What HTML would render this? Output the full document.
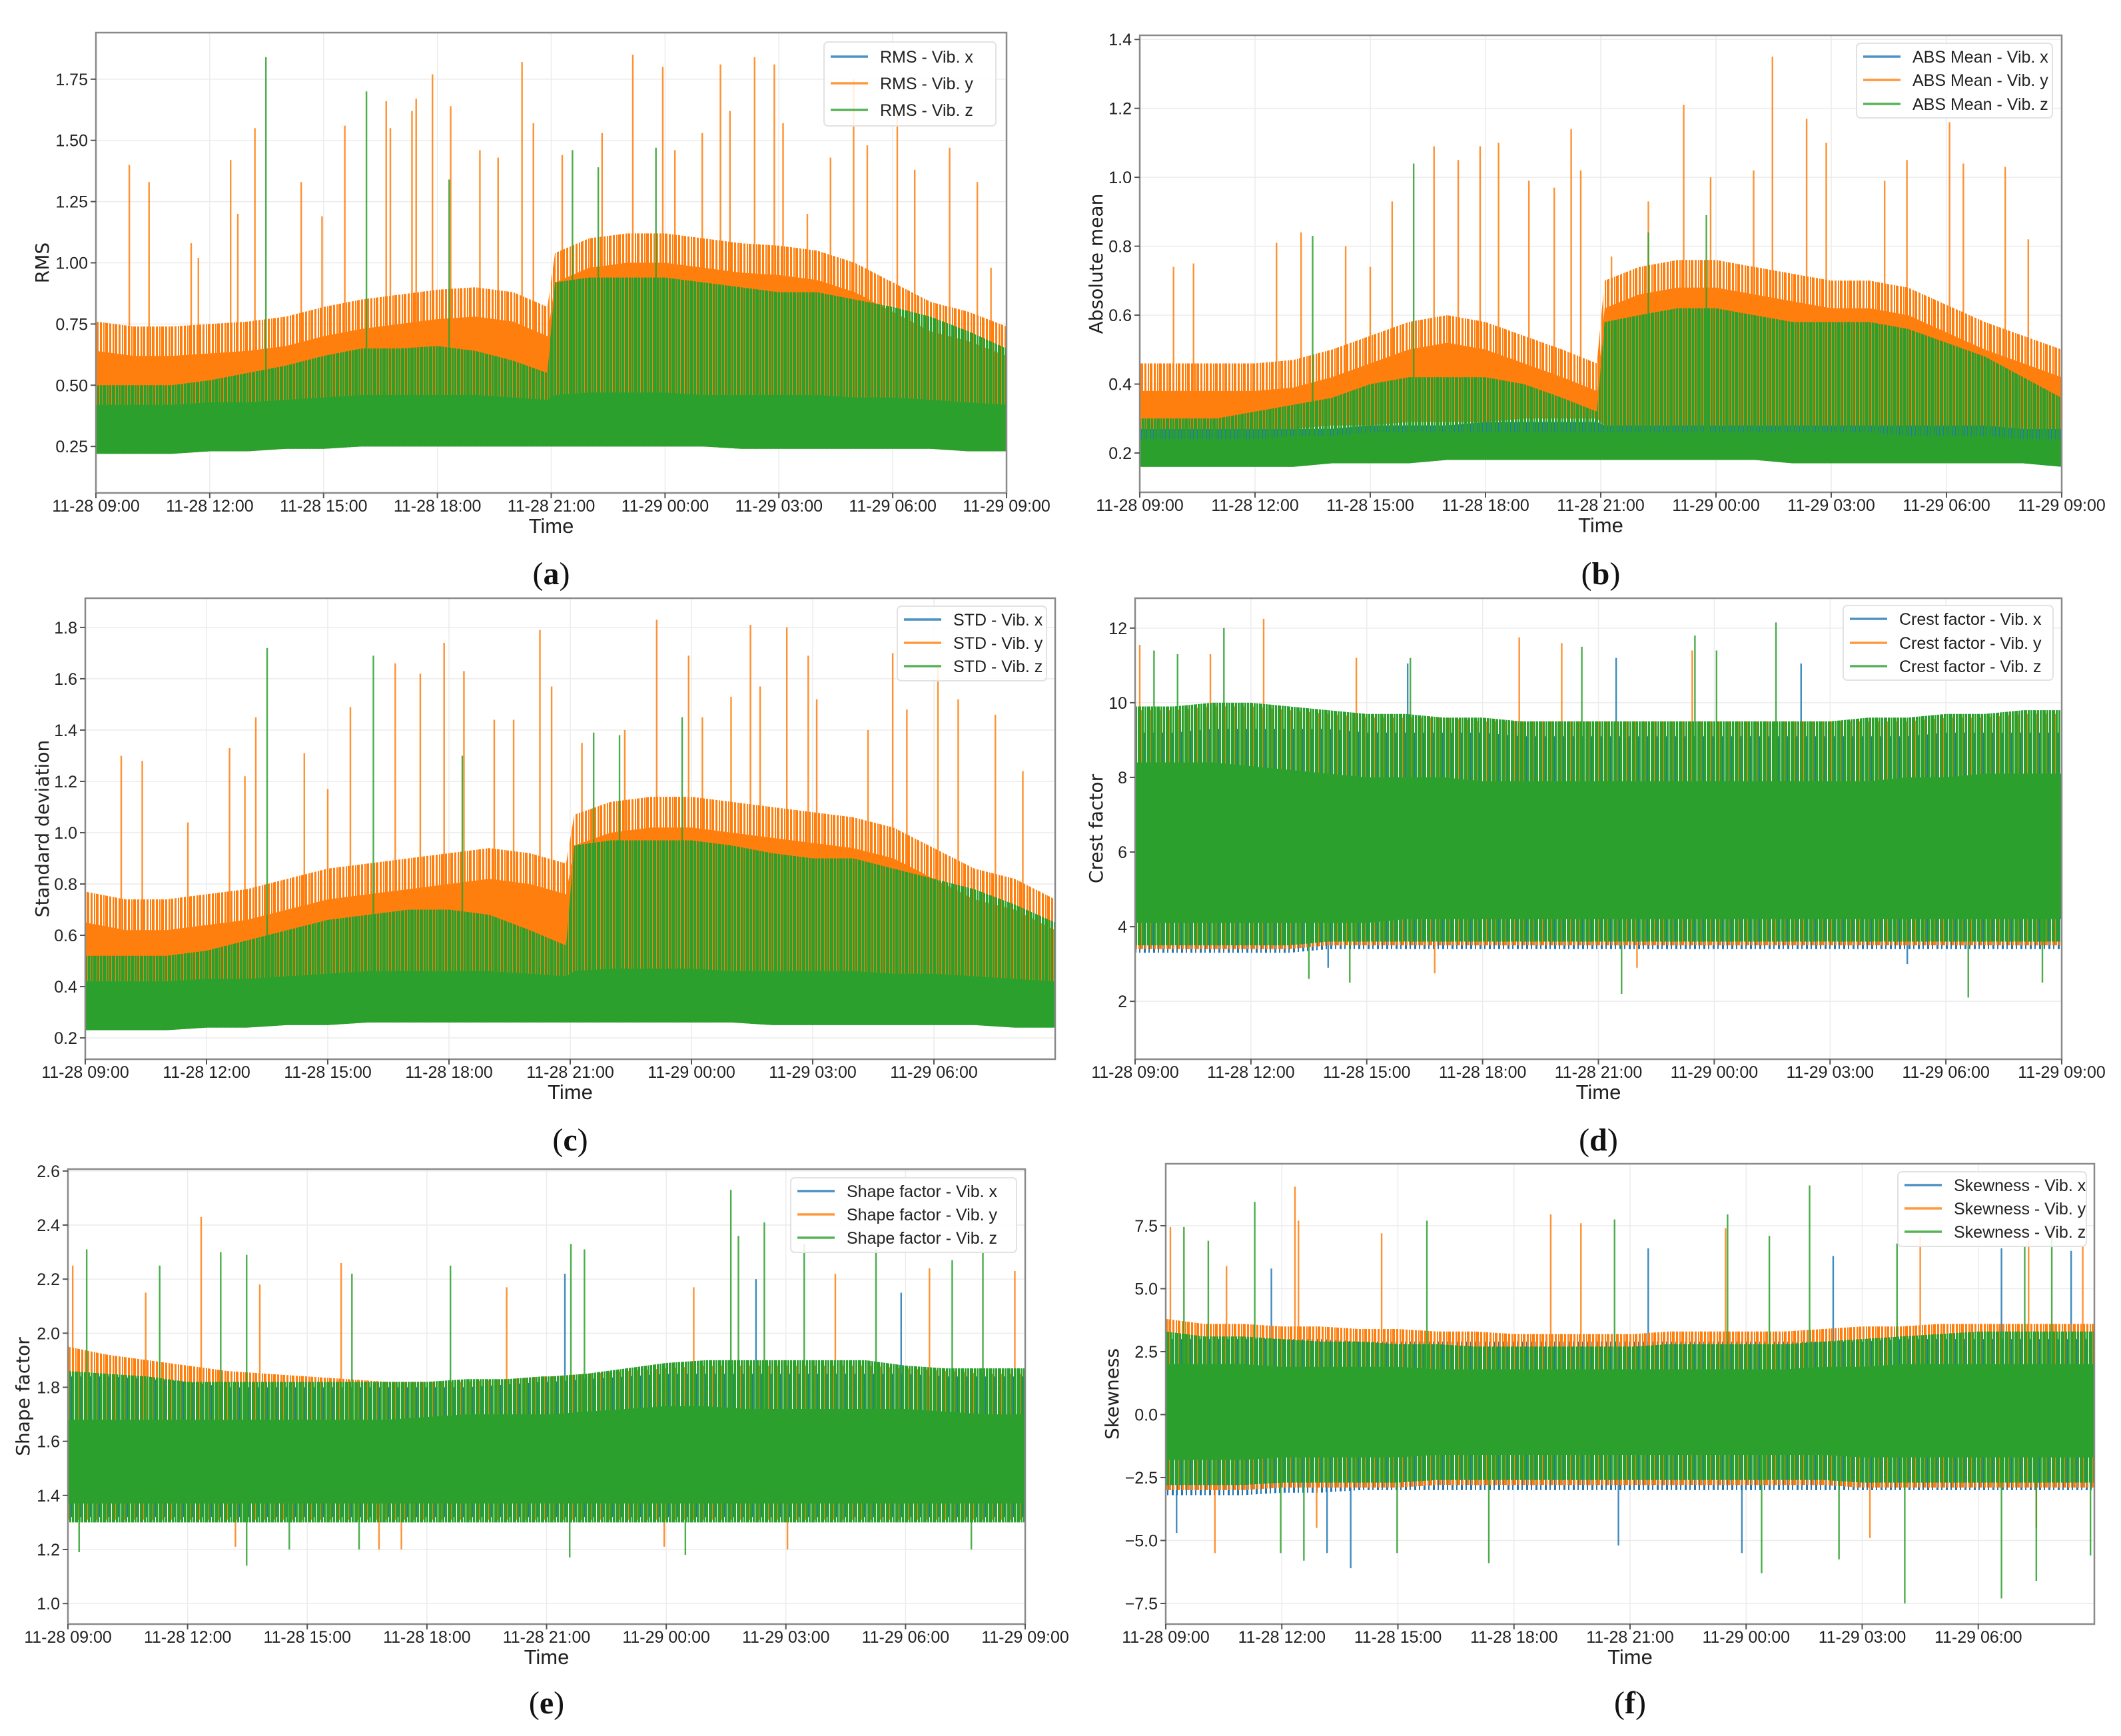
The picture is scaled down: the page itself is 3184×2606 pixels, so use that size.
<!DOCTYPE html>
<html><head><meta charset="utf-8"><style>
html,body{margin:0;padding:0;background:#fff}
svg{display:block}
text{font-family:"Liberation Sans",sans-serif}
</style></head>
<body>
<svg id="fig" xmlns="http://www.w3.org/2000/svg" width="3184" height="2606" viewBox="0 0 3184 2606">
<defs>
<pattern id="p-z" patternUnits="userSpaceOnUse" width="14" height="20"><rect x="0" y="0" width="5" height="20" fill="#2ca02c"/><rect x="6" y="0" width="3" height="20" fill="#2ca02c"/><rect x="10" y="0" width="3" height="20" fill="#2ca02c"/></pattern>
<pattern id="p-y" patternUnits="userSpaceOnUse" width="14" height="20" patternTransform="translate(4,0)"><rect x="0" y="0" width="4" height="20" fill="#ff7f0e"/><rect x="6" y="0" width="3" height="20" fill="#ff7f0e"/><rect x="11" y="0" width="2" height="20" fill="#ff7f0e"/></pattern>
<pattern id="p-x" patternUnits="userSpaceOnUse" width="14" height="20" patternTransform="translate(9,0)"><rect x="0" y="0" width="3" height="20" fill="#1f77b4"/><rect x="7" y="0" width="2" height="20" fill="#1f77b4"/></pattern>
</defs>
<rect width="3184" height="2606" fill="#fff"/>
</svg>
<script>
// ---- shared data ----
const T = [0,1,2,3,4,5,6,7,8,9,10,11,11.9,12.1,13,14,15,16,17,18,19,20,21,22,23,24];
const xTickHours = [0,3,6,9,12,15,18,21,24];
const xTickLabels = ['11-28 09:00','11-28 12:00','11-28 15:00','11-28 18:00','11-28 21:00','11-29 00:00','11-29 03:00','11-29 06:00','11-29 09:00'];

// ---- panel a: RMS ----
const aXlo=[0.30,0.30,0.30,0.30,0.31,0.31,0.31,0.32,0.32,0.32,0.32,0.32,0.32,0.32,0.32,0.32,0.32,0.32,0.31,0.31,0.31,0.31,0.31,0.31,0.30,0.30];
const aXhi=[0.41,0.41,0.42,0.42,0.42,0.43,0.43,0.44,0.44,0.44,0.44,0.43,0.43,0.44,0.44,0.44,0.44,0.44,0.43,0.43,0.43,0.43,0.42,0.42,0.42,0.41];
const aYlo=[0.34,0.34,0.34,0.35,0.35,0.36,0.36,0.37,0.37,0.37,0.37,0.36,0.36,0.36,0.37,0.37,0.37,0.37,0.36,0.36,0.36,0.36,0.36,0.35,0.35,0.35];
const aYhi=[0.64,0.62,0.62,0.63,0.64,0.66,0.70,0.73,0.75,0.77,0.78,0.76,0.70,0.92,0.98,1.00,1.00,0.98,0.96,0.95,0.93,0.88,0.80,0.72,0.68,0.62];
const aYshi=[0.76,0.74,0.74,0.75,0.76,0.78,0.82,0.85,0.87,0.89,0.90,0.88,0.82,1.04,1.10,1.12,1.12,1.10,1.08,1.07,1.05,1.00,0.92,0.84,0.80,0.74];
const aZlo=[0.22,0.22,0.22,0.23,0.23,0.24,0.24,0.25,0.25,0.25,0.25,0.25,0.25,0.25,0.25,0.25,0.25,0.25,0.24,0.24,0.24,0.24,0.24,0.24,0.23,0.23];
const aZhi=[0.42,0.42,0.42,0.43,0.43,0.44,0.45,0.46,0.46,0.46,0.46,0.45,0.44,0.46,0.47,0.47,0.47,0.46,0.46,0.46,0.46,0.45,0.45,0.44,0.43,0.42];
const aZshi=[0.50,0.50,0.50,0.52,0.55,0.58,0.62,0.65,0.65,0.66,0.64,0.60,0.55,0.92,0.94,0.94,0.94,0.92,0.90,0.88,0.88,0.85,0.82,0.78,0.72,0.65];
const aYspT=[0.88,1.40,2.51,2.70,3.55,3.74,4.19,5.41,5.96,6.56,7.65,7.76,8.33,8.44,8.87,9.35,10.12,10.60,11.23,11.53,12.29,13.34,14.15,14.94,15.26,15.98,16.46,16.71,17.36,17.88,18.11,18.75,19.36,19.97,20.33,21.12,21.58,22.50,23.23,23.59];
const aYspV=[1.40,1.33,1.08,1.02,1.42,1.20,1.55,1.33,1.19,1.56,1.66,1.55,1.62,1.67,1.77,1.64,1.46,1.43,1.82,1.57,1.44,1.53,1.85,1.80,1.46,1.53,1.81,1.62,1.84,1.81,1.57,1.20,1.43,1.75,1.48,1.62,1.38,1.47,1.33,0.98];
const aZspT=[4.48,7.13,9.31,12.56,13.24,14.76];
const aZspV=[1.84,1.70,1.34,1.46,1.39,1.47];
const aYTicks=[0.25,0.5,0.75,1.0,1.25,1.5,1.75];
const aYTickLabels=['0.25','0.50','0.75','1.00','1.25','1.50','1.75'];

// ---- panel b: ABS mean ----
const bXlo=[0.21,0.21,0.21,0.21,0.21,0.21,0.21,0.21,0.21,0.21,0.21,0.21,0.21,0.21,0.21,0.21,0.21,0.21,0.21,0.21,0.21,0.21,0.21,0.21,0.21,0.21];
const bXhi=[0.27,0.27,0.27,0.27,0.27,0.27,0.28,0.28,0.28,0.29,0.29,0.29,0.29,0.28,0.28,0.28,0.28,0.28,0.28,0.28,0.28,0.28,0.28,0.28,0.27,0.27];
const bYlo=[0.27,0.27,0.27,0.27,0.27,0.28,0.28,0.29,0.29,0.29,0.30,0.30,0.30,0.28,0.28,0.28,0.28,0.28,0.28,0.28,0.28,0.28,0.28,0.28,0.27,0.27];
const bYhi=[0.38,0.38,0.38,0.38,0.39,0.42,0.46,0.50,0.52,0.50,0.46,0.42,0.38,0.62,0.66,0.68,0.68,0.66,0.64,0.62,0.62,0.60,0.55,0.50,0.46,0.42];
const bYshi=[0.46,0.46,0.46,0.46,0.47,0.50,0.54,0.58,0.60,0.58,0.54,0.50,0.46,0.70,0.74,0.76,0.76,0.74,0.72,0.70,0.70,0.68,0.63,0.58,0.54,0.50];
const bZlo=[0.16,0.16,0.16,0.16,0.16,0.17,0.17,0.17,0.18,0.18,0.18,0.18,0.18,0.18,0.18,0.18,0.18,0.18,0.17,0.17,0.17,0.17,0.17,0.17,0.17,0.16];
const bZhi=[0.24,0.24,0.24,0.24,0.25,0.25,0.26,0.26,0.26,0.26,0.26,0.26,0.26,0.26,0.26,0.26,0.26,0.26,0.26,0.26,0.26,0.25,0.25,0.25,0.24,0.24];
const bZshi=[0.30,0.30,0.30,0.32,0.34,0.36,0.40,0.42,0.42,0.42,0.40,0.36,0.32,0.58,0.60,0.62,0.62,0.60,0.58,0.58,0.58,0.56,0.52,0.48,0.42,0.36];
const bYspT=[0.88,1.40,3.56,4.20,5.36,6.00,6.57,7.66,8.29,8.86,9.34,10.13,10.79,11.23,11.48,12.28,13.24,14.16,14.86,15.98,16.47,17.36,17.87,19.39,19.97,21.08,21.44,22.53,23.13];
const bYspV=[0.74,0.75,0.81,0.84,0.80,0.74,0.93,1.09,1.05,1.09,1.10,0.99,0.97,1.14,1.02,0.77,0.93,1.21,1.00,1.02,1.35,1.17,1.10,0.99,1.05,1.16,1.04,1.03,0.82];
const bZspT=[4.50,7.13,13.24,14.75];
const bZspV=[0.83,1.04,0.84,0.89];
const bYTicks=[0.2,0.4,0.6,0.8,1.0,1.2,1.4];
const bYTickLabels=['0.2','0.4','0.6','0.8','1.0','1.2','1.4'];

// ---- panel c: STD ----
const cXlo=[0.30,0.30,0.30,0.30,0.31,0.31,0.31,0.32,0.32,0.32,0.32,0.32,0.32,0.32,0.32,0.32,0.32,0.32,0.31,0.31,0.31,0.31,0.31,0.31,0.30,0.30];
const cXhi=[0.41,0.41,0.42,0.42,0.42,0.43,0.43,0.44,0.44,0.44,0.44,0.43,0.43,0.44,0.44,0.44,0.44,0.44,0.43,0.43,0.43,0.43,0.42,0.42,0.42,0.41];
const cYlo=[0.36,0.36,0.36,0.37,0.37,0.38,0.38,0.39,0.39,0.39,0.39,0.38,0.38,0.38,0.39,0.39,0.39,0.39,0.38,0.38,0.38,0.38,0.38,0.37,0.37,0.37];
const cYhi=[0.65,0.62,0.62,0.64,0.66,0.70,0.74,0.76,0.78,0.80,0.82,0.80,0.76,0.95,1.00,1.02,1.02,1.00,0.98,0.96,0.94,0.90,0.82,0.74,0.70,0.62];
const cYshi=[0.77,0.74,0.74,0.76,0.78,0.82,0.86,0.88,0.90,0.92,0.94,0.92,0.88,1.07,1.12,1.14,1.14,1.12,1.10,1.08,1.06,1.02,0.94,0.86,0.82,0.74];
const cZlo=[0.23,0.23,0.23,0.24,0.24,0.25,0.25,0.26,0.26,0.26,0.26,0.26,0.26,0.26,0.26,0.26,0.26,0.26,0.25,0.25,0.25,0.25,0.25,0.25,0.24,0.24];
const cZhi=[0.42,0.42,0.42,0.43,0.43,0.44,0.45,0.46,0.46,0.46,0.46,0.45,0.44,0.46,0.47,0.47,0.47,0.46,0.46,0.46,0.46,0.45,0.45,0.44,0.43,0.42];
const cZshi=[0.52,0.52,0.52,0.54,0.58,0.62,0.66,0.68,0.70,0.70,0.68,0.62,0.56,0.95,0.97,0.97,0.97,0.95,0.92,0.90,0.90,0.86,0.82,0.78,0.72,0.65];
const cYspT=[0.89,1.41,2.54,3.57,3.95,4.22,5.42,6.00,6.56,7.67,8.29,8.88,9.37,10.12,10.60,11.25,11.54,12.29,13.35,14.14,14.93,15.27,15.98,16.46,16.70,17.36,17.89,18.10,19.37,19.98,20.33,21.10,21.60,22.52,23.20];
const cYspV=[1.30,1.28,1.04,1.33,1.22,1.45,1.31,1.17,1.49,1.66,1.62,1.74,1.63,1.44,1.44,1.79,1.57,1.35,1.40,1.83,1.69,1.45,1.53,1.81,1.57,1.80,1.69,1.52,1.40,1.70,1.48,1.66,1.52,1.46,1.24];
const cZspT=[4.50,7.13,9.33,12.58,13.22,14.77];
const cZspV=[1.72,1.69,1.30,1.39,1.38,1.45];
const cYTicks=[0.2,0.4,0.6,0.8,1.0,1.2,1.4,1.6,1.8];
const cYTickLabels=['0.2','0.4','0.6','0.8','1.0','1.2','1.4','1.6','1.8'];

// ---- panel d: crest factor ----
const dXlo=[3.3,3.3,3.3,3.3,3.3,3.4,3.4,3.4,3.4,3.4,3.4,3.4,3.4,3.4,3.4,3.4,3.4,3.4,3.4,3.4,3.4,3.4,3.4,3.4,3.4,3.4];
const dXhi=[9.2,9.2,9.3,9.3,9.3,9.3,9.2,9.2,9.2,9.2,9.1,9.1,9.1,9.1,9.1,9.1,9.1,9.1,9.1,9.1,9.1,9.1,9.2,9.2,9.2,9.2];
const dYlo=[3.4,3.4,3.4,3.4,3.4,3.5,3.5,3.5,3.5,3.5,3.5,3.5,3.5,3.5,3.5,3.5,3.5,3.5,3.5,3.5,3.5,3.5,3.5,3.5,3.5,3.5];
const dYhi=[9.8,9.8,9.9,9.9,9.8,9.7,9.6,9.6,9.6,9.5,9.5,9.5,9.5,9.5,9.5,9.5,9.5,9.5,9.5,9.5,9.5,9.5,9.6,9.6,9.7,9.7];
const dZslo=[3.5,3.5,3.5,3.5,3.5,3.6,3.6,3.6,3.6,3.6,3.6,3.6,3.6,3.6,3.6,3.6,3.6,3.6,3.6,3.6,3.6,3.6,3.6,3.6,3.6,3.6];
const dZshi=[9.9,9.9,10.0,10.0,9.9,9.8,9.7,9.7,9.6,9.6,9.5,9.5,9.5,9.5,9.5,9.5,9.5,9.5,9.5,9.5,9.6,9.6,9.7,9.7,9.8,9.8];
const dZlo=[4.1,4.1,4.1,4.1,4.1,4.1,4.1,4.2,4.2,4.2,4.2,4.2,4.2,4.2,4.2,4.2,4.2,4.2,4.2,4.2,4.2,4.2,4.2,4.2,4.2,4.2];
const dZhi=[8.4,8.4,8.4,8.3,8.2,8.1,8.0,8.0,8.0,7.9,7.9,7.9,7.9,7.9,7.9,7.9,7.9,7.9,7.9,7.9,7.9,8.0,8.0,8.1,8.1,8.1];
const dXspT=[12.46,7.06,17.25,5.0,20.0];
const dXspV=[11.2,11.05,11.05,2.9,3.0];
const dYspT=[0.12,3.33,1.95,9.95,11.05,14.43,5.73,7.76,13.0];
const dYspV=[11.55,12.25,11.3,11.75,11.6,11.4,11.2,2.75,2.9];
const dZspT=[2.30,0.49,1.10,16.60,15.06,11.57,7.13,14.50,5.56,12.60,21.58,4.50,23.50];
const dZspV=[12.0,11.4,11.3,12.15,11.4,11.5,11.2,11.8,2.5,2.2,2.1,2.6,2.5];
const dYTicks=[2,4,6,8,10,12];
const dYTickLabels=['2','4','6','8','10','12'];

// ---- panel e: shape factor ----
const eXlo=[1.32,1.32,1.32,1.32,1.32,1.32,1.32,1.32,1.32,1.32,1.32,1.32,1.32,1.32,1.32,1.32,1.32,1.32,1.32,1.32,1.32,1.32,1.32,1.32,1.32,1.32];
const eXhi=[1.84,1.84,1.83,1.82,1.80,1.80,1.80,1.80,1.80,1.80,1.80,1.81,1.82,1.82,1.83,1.84,1.85,1.85,1.85,1.85,1.85,1.85,1.85,1.84,1.84,1.84];
const eYlo=[1.31,1.31,1.31,1.31,1.31,1.31,1.31,1.31,1.31,1.31,1.31,1.31,1.31,1.31,1.31,1.31,1.31,1.31,1.31,1.31,1.31,1.31,1.31,1.31,1.31,1.31];
const eYhi=[1.95,1.92,1.90,1.88,1.86,1.85,1.84,1.83,1.82,1.82,1.82,1.83,1.84,1.84,1.85,1.86,1.87,1.88,1.88,1.88,1.88,1.88,1.87,1.86,1.85,1.85];
const eZslo=[1.30,1.30,1.30,1.30,1.30,1.30,1.30,1.30,1.30,1.30,1.30,1.30,1.30,1.30,1.30,1.30,1.30,1.30,1.30,1.30,1.30,1.30,1.30,1.30,1.30,1.30];
const eZshi=[1.86,1.85,1.84,1.82,1.82,1.82,1.82,1.82,1.82,1.82,1.83,1.83,1.84,1.84,1.85,1.87,1.89,1.90,1.90,1.90,1.90,1.90,1.88,1.87,1.87,1.87];
const eZlo=[1.37,1.37,1.37,1.37,1.37,1.37,1.37,1.37,1.37,1.37,1.37,1.37,1.37,1.37,1.37,1.37,1.37,1.37,1.37,1.37,1.37,1.37,1.37,1.37,1.37,1.37];
const eZhi=[1.68,1.68,1.68,1.68,1.68,1.68,1.68,1.68,1.68,1.69,1.70,1.70,1.70,1.70,1.71,1.72,1.73,1.73,1.72,1.72,1.72,1.72,1.72,1.71,1.70,1.70];
const eXspT=[12.46,17.25,20.89];
const eXspV=[2.22,2.20,2.15];
const eYspT=[3.34,0.12,1.95,4.81,6.85,11.0,15.69,19.24,23.74,21.6,4.2,7.8,8.36,14.95,18.04];
const eYspV=[2.43,2.25,2.15,2.18,2.26,2.17,2.17,2.22,2.23,2.24,1.21,1.20,1.20,1.21,1.20];
const eZspT=[0.47,2.30,3.83,4.48,7.12,9.59,12.61,12.95,16.62,16.81,17.46,18.46,20.26,22.17,22.94,0.28,4.48,12.58,15.48,22.65,5.55,7.3];
const eZspV=[2.31,2.25,2.30,2.29,2.22,2.25,2.33,2.31,2.53,2.36,2.41,2.33,2.31,2.27,2.30,1.19,1.14,1.17,1.18,1.20,1.20,1.20];
const eYTicks=[1.0,1.2,1.4,1.6,1.8,2.0,2.2,2.4,2.6];
const eYTickLabels=['1.0','1.2','1.4','1.6','1.8','2.0','2.2','2.4','2.6'];

// ---- panel f: skewness ----
const fXlo=[-3.2,-3.2,-3.2,-3.1,-3.1,-3.0,-3.0,-3.0,-3.0,-3.0,-3.0,-3.0,-3.0,-3.0,-3.0,-3.0,-3.0,-3.0,-3.0,-3.0,-3.0,-3.0,-3.0,-3.0,-3.0,-3.0];
const fXhi=[3.0,3.0,3.0,3.0,3.0,2.9,2.9,2.9,2.9,2.9,2.9,2.9,2.9,2.9,2.9,2.9,2.9,2.9,2.9,2.9,3.0,3.0,3.0,3.0,3.0,3.0];
const fYlo=[-3.0,-3.0,-3.0,-2.9,-2.9,-2.9,-2.9,-2.8,-2.8,-2.8,-2.8,-2.8,-2.8,-2.8,-2.8,-2.8,-2.8,-2.8,-2.8,-2.9,-2.9,-2.9,-2.9,-2.9,-2.9,-2.9];
const fYhi=[3.8,3.6,3.6,3.5,3.5,3.4,3.4,3.3,3.3,3.2,3.2,3.2,3.2,3.2,3.3,3.3,3.3,3.3,3.4,3.5,3.5,3.6,3.6,3.6,3.6,3.6];
const fZslo=[-2.8,-2.8,-2.8,-2.7,-2.7,-2.7,-2.7,-2.6,-2.6,-2.6,-2.6,-2.6,-2.6,-2.6,-2.6,-2.6,-2.6,-2.6,-2.6,-2.7,-2.7,-2.7,-2.7,-2.7,-2.7,-2.7];
const fZshi=[3.3,3.1,3.1,3.0,2.9,2.9,2.8,2.8,2.7,2.7,2.7,2.7,2.7,2.7,2.8,2.8,2.8,2.8,2.9,3.0,3.1,3.2,3.3,3.3,3.3,3.3];
const fZlo=[-1.8,-1.8,-1.8,-1.7,-1.7,-1.7,-1.7,-1.6,-1.6,-1.6,-1.6,-1.6,-1.6,-1.6,-1.6,-1.6,-1.6,-1.6,-1.6,-1.7,-1.7,-1.7,-1.7,-1.7,-1.7,-1.7];
const fZhi=[2.0,2.0,2.0,1.9,1.9,1.9,1.9,1.8,1.8,1.8,1.8,1.8,1.8,1.8,1.8,1.8,1.8,1.8,1.9,1.9,2.0,2.0,2.0,2.0,2.0,2.0];
const fXspT=[12.47,17.25,21.6,23.4,2.73,4.78,14.89,0.28,4.17,11.7];
const fXspV=[6.6,6.3,6.6,6.5,5.8,-6.1,-5.5,-4.7,-5.5,-5.2];
const fYspT=[3.34,0.12,3.43,9.95,10.73,14.47,1.57,5.58,19.5,22.3,23.7,1.27,18.2,22.5,3.9];
const fYspV=[9.05,7.45,7.7,7.95,7.6,7.4,5.9,7.2,7.1,6.9,6.7,-5.5,-4.9,-4.5,-4.5];
const fZspT=[2.30,0.47,1.10,6.75,11.6,14.52,16.64,15.6,18.9,22.9,22.2,19.1,21.6,22.5,15.4,8.35,3.57,2.97,5.98,23.9,17.4];
const fZspV=[8.45,7.45,6.9,7.7,7.75,7.95,9.1,7.1,6.8,7.5,6.7,-7.5,-7.3,-6.6,-6.3,-5.9,-5.8,-5.5,-5.5,-5.6,-5.75];
const fYTicks=[-7.5,-5.0,-2.5,0.0,2.5,5.0,7.5];
const fYTickLabels=['\u22127.5','\u22125.0','\u22122.5','0.0','2.5','5.0','7.5'];

// ---- rendering ----
const NS='http://www.w3.org/2000/svg';
const svg=document.getElementById('fig');
const C={x:'#1f77b4',y:'#ff7f0e',z:'#2ca02c'};
function el(tag,attrs,parent){const e=document.createElementNS(NS,tag);for(const k in attrs)e.setAttribute(k,attrs[k]);(parent||svg).appendChild(e);return e;}
function interp(arr,h){for(let i=0;i<T.length-1;i++){if(h>=T[i]&&h<=T[i+1]){const f=(h-T[i])/(T[i+1]-T[i]);return arr[i]+(arr[i+1]-arr[i])*f;}}return arr[arr.length-1];}

// band mode: 1 = solid fill, 0 = striped (partial coverage) fill
const panels=[
 {id:'a',L:144,R:1511,Tp:49,B:740,y0:0.06,y1:1.94,yt:aYTicks,ytl:aYTickLabels,nx:9,ylab:'RMS',ylx:63,
  leg:{x:1237,y:63,w:258,h:126,rows:[85,125,165]},names:['RMS - Vib. x','RMS - Vib. y','RMS - Vib. z'],ly:861,
  series:[{c:'x',bands:[[aXlo,aXhi,1]],sT:[],sV:[]},{c:'y',bands:[[aYlo,aYshi,0],[aYlo,aYhi,1]],sT:aYspT,sV:aYspV},{c:'z',bands:[[aZlo,aZshi,0],[aZlo,aZhi,1]],sT:aZspT,sV:aZspV}]},
 {id:'b',L:1711,R:3095,Tp:53,B:739,y0:0.086,y1:1.412,yt:bYTicks,ytl:bYTickLabels,nx:9,ylab:'Absolute mean',ylx:1645,
  leg:{x:2787,y:65,w:294,h:112,rows:[85,120,156]},names:['ABS Mean - Vib. x','ABS Mean - Vib. y','ABS Mean - Vib. z'],ly:861,
  series:[{c:'x',bands:[[bXlo,bXhi,1]],sT:[],sV:[]},{c:'y',bands:[[bYlo,bYshi,0],[bYlo,bYhi,1]],sT:bYspT,sV:bYspV},{c:'z',bands:[[bZlo,bZshi,0],[bZlo,bZhi,1]],sT:bZspT,sV:bZspV}]},
 {id:'c',L:128,R:1584,Tp:898,B:1590,y0:0.117,y1:1.914,yt:cYTicks,ytl:cYTickLabels,nx:8,ylab:'Standard deviation',ylx:63,
  leg:{x:1347,y:910,w:224,h:112,rows:[930,965,1000]},names:['STD - Vib. x','STD - Vib. y','STD - Vib. z'],ly:1711,
  series:[{c:'x',bands:[[cXlo,cXhi,1]],sT:[],sV:[]},{c:'y',bands:[[cYlo,cYshi,0],[cYlo,cYhi,1]],sT:cYspT,sV:cYspV},{c:'z',bands:[[cZlo,cZshi,0],[cZlo,cZhi,1]],sT:cZspT,sV:cZspV}]},
 {id:'d',L:1704,R:3095,Tp:898,B:1590,y0:0.45,y1:12.8,yt:dYTicks,ytl:dYTickLabels,nx:9,ylab:'Crest factor',ylx:1645,
  leg:{x:2767,y:909,w:315,h:112,rows:[929,965,1000]},names:['Crest factor - Vib. x','Crest factor - Vib. y','Crest factor - Vib. z'],ly:1711,
  series:[{c:'x',bands:[[dXlo,dXhi,0]],sT:dXspT,sV:dXspV},{c:'y',bands:[[dYlo,dYhi,0]],sT:dYspT,sV:dYspV},{c:'z',bands:[[dZslo,dZshi,0],[dZlo,dZhi,1]],sT:dZspT,sV:dZspV}]},
 {id:'e',L:102,R:1539,Tp:1755,B:2438,y0:0.924,y1:2.607,yt:eYTicks,ytl:eYTickLabels,nx:9,ylab:'Shape factor',ylx:34,
  leg:{x:1187,y:1768,w:339,h:112,rows:[1788,1823,1858]},names:['Shape factor - Vib. x','Shape factor - Vib. y','Shape factor - Vib. z'],ly:2556,
  series:[{c:'x',bands:[[eXlo,eXhi,0]],sT:eXspT,sV:eXspV},{c:'y',bands:[[eYlo,eYhi,0]],sT:eYspT,sV:eYspV},{c:'z',bands:[[eZslo,eZshi,0],[eZlo,eZhi,1]],sT:eZspT,sV:eZspV}]},
 {id:'f',L:1750,R:3144,Tp:1747,B:2438,y0:-8.32,y1:9.96,yt:fYTicks,ytl:fYTickLabels,nx:8,ylab:'Skewness',ylx:1669,
  leg:{x:2849,y:1759,w:283,h:112,rows:[1779,1814,1849]},names:['Skewness - Vib. x','Skewness - Vib. y','Skewness - Vib. z'],ly:2556,
  series:[{c:'x',bands:[[fXlo,fXhi,0]],sT:fXspT,sV:fXspV},{c:'y',bands:[[fYlo,fYhi,0]],sT:fYspT,sV:fYspV},{c:'z',bands:[[fZslo,fZshi,0],[fZlo,fZhi,1]],sT:fZspT,sV:fZspV}]}
];

panels.forEach(p=>{
  const X=h=>p.L+h/24*(p.R-p.L);
  const Y=v=>p.B-(v-p.y0)/(p.y1-p.y0)*(p.B-p.Tp);
  const g=el('g',{});
  
  
  const clip=el('clipPath',{id:'clip-'+p.id},g);
  el('rect',{x:p.L,y:p.Tp,width:p.R-p.L,height:p.B-p.Tp},clip);
  const grid=el('g',{stroke:'#ececec','stroke-width':1.5},g);
  
  
  p.yt.forEach(v=>el('line',{x1:p.L,x2:p.R,y1:Y(v),y2:Y(v)},grid));
  xTickHours.slice(0,p.nx).forEach(h=>el('line',{x1:X(h),x2:X(h),y1:p.Tp,y2:p.B},grid));
  const plot=el('g',{'clip-path':'url(#clip-'+p.id+')'},g);
  
  
  p.series.forEach(s=>{
    const sg=el('g',{},plot);
    
    
    s.bands.forEach(b=>{
      const lo=b[0],hi=b[1];
      let pts=[];
      for(let i=0;i<T.length;i++)pts.push(X(T[i]).toFixed(1)+','+Y(hi[i]).toFixed(1));
      for(let i=T.length-1;i>=0;i--)pts.push(X(T[i]).toFixed(1)+','+Y(lo[i]).toFixed(1));
      const poly=el('polygon',{points:pts.join(' '),fill:b[2]?C[s.c]:'url(#p-'+s.c+')'},sg);
      
      
    });
    const base=s.bands[s.bands.length-1];
    for(let i=0;i<s.sT.length;i++){
      const h=s.sT[i];
      const mid=(interp(base[0],h)+interp(base[1],h))/2;
      const ln=el('line',{x1:X(h),x2:X(h),y1:Y(mid),y2:Y(s.sV[i]),stroke:C[s.c],'stroke-width':2.4,'stroke-opacity':0.85},sg);
      
      
    }
  });
  const fr=el('rect',{x:p.L,y:p.Tp,width:p.R-p.L,height:p.B-p.Tp,fill:'none',stroke:'#8a8a8a','stroke-width':2.5},g);
  
  
  const yax=el('g',{},g);
  
  
  p.yt.forEach((v,i)=>{
    el('line',{x1:p.L-8,x2:p.L,y1:Y(v),y2:Y(v),stroke:'#555','stroke-width':2},yax);
    const t=el('text',{x:p.L-12,y:Y(v)+9,'text-anchor':'end','font-size':25,fill:'#222'},yax);
    
    
    t.textContent=p.ytl[i];
  });
  const xax=el('g',{},g);
  
  
  xTickHours.slice(0,p.nx).forEach((h,i)=>{
    el('line',{x1:X(h),x2:X(h),y1:p.B,y2:p.B+8,stroke:'#555','stroke-width':2},xax);
    const t=el('text',{x:X(h),y:p.B+28,'text-anchor':'middle','font-size':25,fill:'#222'},xax);
    
    
    t.textContent=xTickLabels[i];
  });
  const xt=el('text',{x:(p.L+p.R)/2,y:p.B+60,'text-anchor':'middle','font-size':31,fill:'#222'},g);
  
  
  xt.textContent='Time';
  const cy=(p.Tp+p.B)/2;
  const yt=el('text',{x:0,y:0,'text-anchor':'middle','font-size':28,fill:'#222',transform:'translate('+(p.ylx+10)+','+cy+') rotate(-90)',style:'font-family:"DejaVu Sans",sans-serif'},g);
  
  
  yt.textContent=p.ylab;
  const lg=el('g',{},g);
  
  
  el('rect',{x:p.leg.x,y:p.leg.y,width:p.leg.w,height:p.leg.h,rx:6,fill:'#fff','fill-opacity':0.85,stroke:'#e2e2e2','stroke-width':2},lg);
  ['x','y','z'].forEach((k,i)=>{
    const ry=p.leg.rows[i];
    const e=el('g',{},lg);
    
    
    el('line',{x1:p.leg.x+10,x2:p.leg.x+66,y1:ry,y2:ry,stroke:C[k],'stroke-width':3.5,'stroke-opacity':0.8},e);
    const t=el('text',{x:p.leg.x+84,y:ry+9,'font-size':25,fill:'#222'},e);
    t.textContent=p.names[i];
  });
  const lt=el('text',{x:(p.L+p.R)/2,y:p.ly+16,'text-anchor':'middle','font-size':48,fill:'#111',style:'font-family:"Liberation Serif",serif'},g);
  
  
  lt.innerHTML='(<tspan font-weight="bold">'+p.id+'</tspan>)';
});
</script>
</body></html>
